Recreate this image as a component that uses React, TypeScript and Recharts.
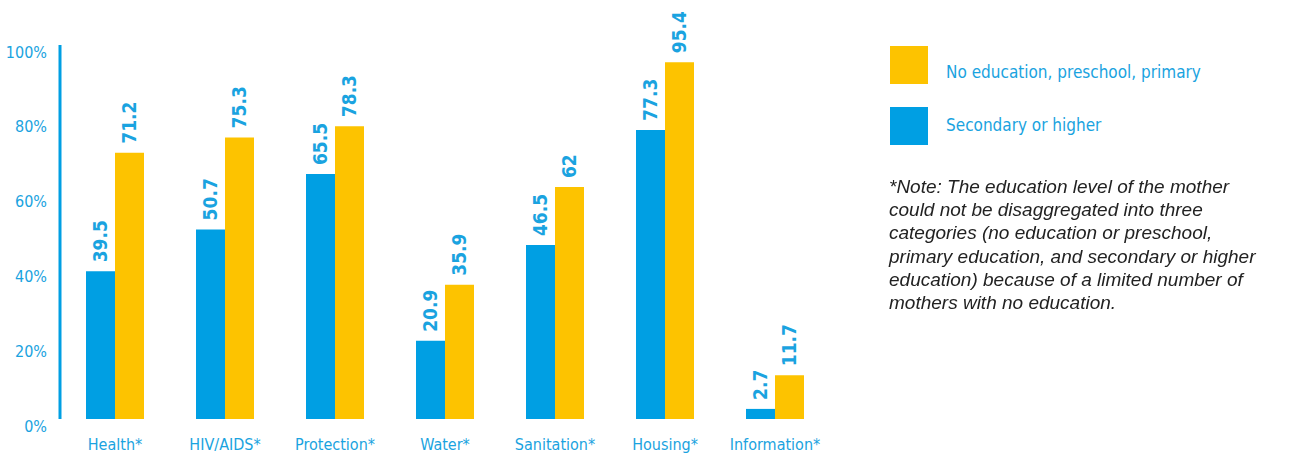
import React from 'react';
import { BarChart, Bar, XAxis, YAxis, LabelList } from 'recharts';

const categories = ['Health*', 'HIV/AIDS*', 'Protection*', 'Water*', 'Sanitation*', 'Housing*', 'Information*'];
const secondaryOrHigher = [39.5, 50.7, 65.5, 20.9, 46.5, 77.3, 2.7];
const noEducationPrimary = [71.2, 75.3, 78.3, 35.9, 62, 95.4, 11.7];
const yTicks = [0, 20, 40, 60, 80, 100];

const BLUE = '#009FE3';
const YELLOW = '#FDC300';
const TEXT_BLUE = '#1AA3E0';
const FONT = '"Liberation Sans Narrow", "DejaVu Sans Condensed", Roboto, sans-serif';

const data = categories.map((name, i) => ({
  name,
  secondary: secondaryOrHigher[i],
  noEdu: noEducationPrimary[i],
}));

const YTick = (props: any) => {
  const { y, payload } = props;
  return (
    <text x={47} y={y + 7} textAnchor='end' dominantBaseline='central' fill={TEXT_BLUE} fontSize={16} fontFamily={FONT}>
      {payload.value}%
    </text>
  );
};

const XTick = (props: any) => {
  const { x, y, payload } = props;
  return (
    <text x={x} y={y + 17} textAnchor='middle' dominantBaseline='central' fill={TEXT_BLUE} fontSize={16} fontFamily={FONT}>
      {payload.value}
    </text>
  );
};

const BarValue = (props: any) => {
  const { x, y, width, value } = props;
  const cx = x + width / 2;
  const ty = y - 9;
  return (
    <text
      x={cx}
      y={ty}
      transform={`rotate(-90, ${cx}, ${ty})`}
      textAnchor='start'
      dominantBaseline='central'
      fill={TEXT_BLUE}
      fontSize={19}
      fontWeight='bold'
      fontFamily={FONT}
    >
      {value}
    </text>
  );
};

const App = () => {
  return (
    <div style={{ position: 'fixed', left: 0, top: 0, width: 1307, height: 454, background: '#fff' }}>
      <BarChart
        width={840}
        height={454}
        data={data}
        margin={{ top: 45, right: 10, bottom: 5, left: 0 }}
        barGap={0}
        barCategoryGap={26}
      >
        <YAxis
          width={60}
          domain={[0, 100]}
          ticks={yTicks}
          axisLine={{ stroke: BLUE, strokeWidth: 3 }}
          tickLine={false}
          tick={<YTick />}
        />
        <XAxis dataKey='name' height={30} axisLine={false} tickLine={false} tick={<XTick />} interval={0} />
        <Bar dataKey='secondary' fill={BLUE} isAnimationActive={false}>
          <LabelList dataKey='secondary' content={<BarValue />} />
        </Bar>
        <Bar dataKey='noEdu' fill={YELLOW} isAnimationActive={false}>
          <LabelList dataKey='noEdu' content={<BarValue />} />
        </Bar>
      </BarChart>

      {/* legend */}
      <div style={{ position: 'absolute', left: 890, top: 46, width: 38, height: 38, background: YELLOW }} />
      <div style={{ position: 'absolute', left: 946, top: 62, fontFamily: FONT, fontSize: 17, color: TEXT_BLUE, lineHeight: '20px' }}>
        No education, preschool, primary
      </div>
      <div style={{ position: 'absolute', left: 890, top: 107, width: 38, height: 38, background: BLUE }} />
      <div style={{ position: 'absolute', left: 946, top: 115, fontFamily: FONT, fontSize: 17, color: TEXT_BLUE, lineHeight: '20px' }}>
        Secondary or higher
      </div>

      {/* note */}
      <div
        style={{
          position: 'absolute',
          left: 889,
          top: 175,
          width: 420,
          fontFamily: '"Liberation Sans", Arial, sans-serif',
          fontStyle: 'italic',
          fontSize: 19,
          lineHeight: '23.2px',
          color: '#222',
        }}
      >
        *Note: The education level of the mother<br />
        could not be disaggregated into three<br />
        categories (no education or preschool,<br />
        primary education, and secondary or higher<br />
        education) because of a limited number of<br />
        mothers with no education.
      </div>
    </div>
  );
};

export default App;
